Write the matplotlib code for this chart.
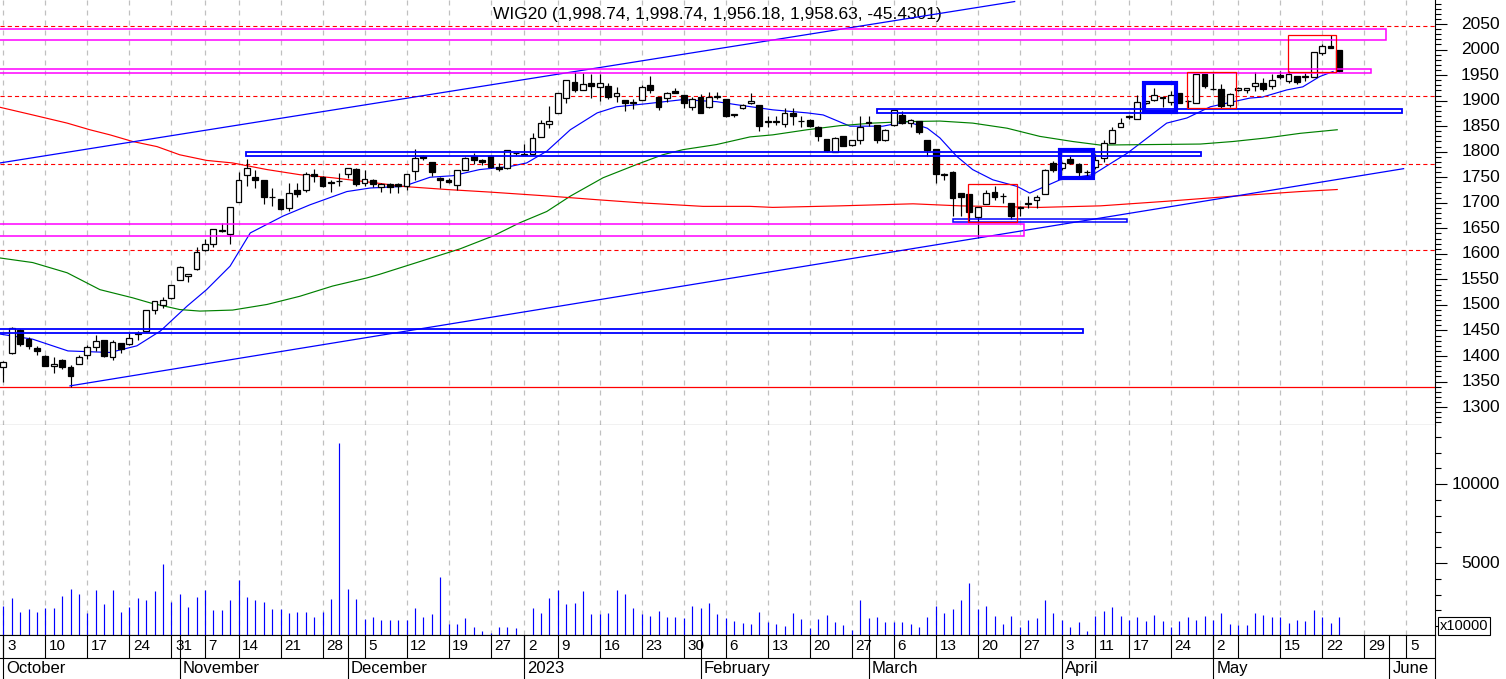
import numpy as np
import pandas as pd
import matplotlib
matplotlib.use("Agg")
import matplotlib.pyplot as plt
from matplotlib.patches import Rectangle
import matplotlib.transforms as mtrans

plt.rcParams['font.family'] = ['Liberation Sans', 'DejaVu Sans']
plt.rcParams['lines.scale_dashes'] = False

# --- trading calendar (GPW) ---
holidays = ['2022-11-01', '2022-11-11', '2022-12-26', '2023-01-06', '2023-04-07',
            '2023-04-10', '2023-05-01', '2023-05-03', '2023-06-08']
days = pd.bdate_range('2022-10-03', '2023-06-09')
days = days[~days.isin(pd.to_datetime(holidays))]

# --- WIG20 daily candles ---
opens = [1379, 1405, 1450, 1433, 1415, 1401, 1381, 1392, 1379, 1385,
         1403, 1418, 1431, 1399, 1425, 1423, 1443, 1449, 1491, 1500,
         1514, 1548, 1556, 1570, 1607, 1620, 1647, 1639, 1701, 1755,
         1750, 1745, 1712, 1708, 1690, 1726, 1725, 1757, 1750, 1741,
         1742, 1757, 1766, 1739, 1745, 1731, 1737, 1736, 1732, 1762,
         1791, 1780, 1749, 1745, 1735, 1765, 1791, 1784, 1791, 1771,
         1768, 1797, 1794, 1796, 1829, 1855, 1876, 1906, 1936, 1920,
         1934, 1926, 1929, 1910, 1902, 1896, 1902, 1931, 1908, 1905,
         1918, 1911, 1888, 1907, 1887, 1908, 1903, 1872, 1885, 1895,
         1892, 1859, 1859, 1854, 1876, 1860, 1862, 1849, 1825, 1800,
         1831, 1814, 1822, 1856, 1852, 1822, 1853, 1872, 1856, 1861,
         1823, 1806, 1755, 1761, 1719, 1718, 1672, 1698, 1721, 1713,
         1700, 1690, 1698, 1705, 1717, 1778, 1768, 1786, 1775, 1760,
         1771, 1788, 1817, 1848, 1867, 1864, 1895, 1902, 1906, 1898,
         1915, 1899, 1895, 1952, 1922, 1922, 1892, 1920, 1920, 1929,
         1935, 1928, 1950, 1939, 1948, 1947, 1947, 1993, 2007, 1998.74]
highs = [1391, 1457, 1452, 1437, 1420, 1403, 1399, 1395, 1383, 1403,
         1422, 1442, 1432, 1432, 1426, 1446, 1449, 1490, 1508, 1515,
         1540, 1576, 1561, 1613, 1629, 1648, 1660, 1692, 1761, 1786,
         1765, 1745, 1729, 1708, 1739, 1738, 1760, 1766, 1752, 1745,
         1758, 1768, 1768, 1765, 1746, 1739, 1739, 1738, 1757, 1806,
         1793, 1780, 1750, 1748, 1765, 1789, 1798, 1786, 1793, 1777,
         1804, 1798, 1815, 1836, 1863, 1890, 1915, 1941, 1957, 1954,
         1953, 1953, 1934, 1927, 1902, 1904, 1931, 1948, 1908, 1917,
         1925, 1911, 1907, 1913, 1917, 1917, 1903, 1874, 1893, 1914,
         1892, 1869, 1869, 1885, 1885, 1870, 1864, 1850, 1825, 1828,
         1831, 1822, 1869, 1870, 1852, 1845, 1882, 1880, 1865, 1861,
         1823, 1806, 1759, 1763, 1719, 1718, 1691, 1726, 1733, 1719,
         1700, 1693, 1714, 1716, 1766, 1782, 1780, 1792, 1777, 1765,
         1795, 1823, 1849, 1866, 1872, 1911, 1900, 1924, 1907, 1918,
         1915, 1902, 1952, 1952, 1954, 1932, 1915, 1926, 1924, 1956,
         1945, 1952, 1958, 1958, 1949, 1955, 1996, 2011, 2029, 1998.74]
lows = [1349, 1404, 1420, 1414, 1402, 1380, 1367, 1374, 1340, 1384,
        1394, 1410, 1398, 1393, 1406, 1421, 1432, 1448, 1482, 1494,
        1511, 1548, 1544, 1568, 1605, 1614, 1643, 1620, 1701, 1732,
        1728, 1698, 1693, 1685, 1684, 1711, 1722, 1740, 1730, 1721,
        1732, 1749, 1733, 1733, 1730, 1722, 1720, 1720, 1726, 1745,
        1784, 1753, 1729, 1739, 1726, 1764, 1776, 1774, 1768, 1762,
        1767, 1793, 1793, 1794, 1828, 1846, 1876, 1896, 1916, 1920,
        1906, 1900, 1904, 1897, 1879, 1883, 1901, 1915, 1882, 1898,
        1914, 1885, 1881, 1875, 1886, 1903, 1867, 1867, 1884, 1893,
        1840, 1849, 1852, 1849, 1852, 1849, 1849, 1820, 1800, 1800,
        1811, 1812, 1815, 1850, 1818, 1820, 1850, 1855, 1849, 1835,
        1791, 1739, 1745, 1674, 1675, 1664, 1631, 1697, 1706, 1700,
        1669, 1675, 1690, 1690, 1717, 1760, 1765, 1776, 1753, 1753,
        1766, 1780, 1817, 1848, 1865, 1864, 1893, 1900, 1888, 1891,
        1895, 1884, 1895, 1925, 1920, 1886, 1888, 1919, 1914, 1918,
        1918, 1922, 1942, 1935, 1933, 1938, 1946, 1989, 2004, 1956.18]
closes = [1389, 1454, 1424, 1420, 1410, 1381, 1384, 1379, 1361, 1399,
          1417, 1430, 1400, 1428, 1413, 1436, 1446, 1490, 1508, 1510,
          1540, 1575, 1561, 1604, 1620, 1648, 1645, 1692, 1744, 1769,
          1745, 1711, 1711, 1687, 1719, 1717, 1757, 1752, 1732, 1739,
          1743, 1768, 1737, 1747, 1737, 1737, 1731, 1733, 1756, 1788,
          1787, 1760, 1745, 1741, 1765, 1788, 1783, 1780, 1770, 1767,
          1804, 1798, 1795, 1827, 1857, 1860, 1915, 1940, 1920, 1932,
          1929, 1934, 1908, 1915, 1895, 1897, 1926, 1921, 1888, 1915,
          1914, 1895, 1903, 1876, 1907, 1909, 1869, 1873, 1892, 1900,
          1851, 1860, 1860, 1876, 1869, 1861, 1851, 1830, 1801, 1827,
          1812, 1822, 1849, 1858, 1822, 1843, 1882, 1857, 1862, 1838,
          1803, 1757, 1756, 1710, 1711, 1682, 1691, 1719, 1712, 1714,
          1674, 1691, 1699, 1712, 1765, 1764, 1778, 1778, 1760, 1761,
          1784, 1817, 1843, 1856, 1869, 1898, 1900, 1911, 1907, 1911,
          1895, 1900, 1952, 1928, 1923, 1890, 1913, 1924, 1924, 1935,
          1922, 1941, 1946, 1952, 1936, 1948, 1996, 2006, 2004, 1958.63]
# volume in x10000 units
volume = [2254, 2804, 1874, 2108, 1874, 2171, 2171, 2931, 3374, 3015,
          1811, 3269, 2381, 3311, 1874, 2192, 2761, 2635, 3205, 4914,
          2508, 3058, 2192, 2825, 3269, 2002, 2002, 2635, 3944, 2825,
          2635, 2508, 2065, 2065, 1811, 1874, 1874, 1558, 1874, 2698,
          12614, 3332, 2698, 1432, 1558, 1412, 1412, 1412, 1412, 2171,
          1601, 1791, 4133, 1158, 1158, 1538, 968, 715, 589, 968,
          968, 905, 300, 2171, 1855, 2804, 3311, 2424, 2488, 3247,
          1791, 1791, 1855, 3311, 3057, 2171, 1791, 1665, 1981, 1601,
          1601, 1538, 2298, 2171, 2488, 1791, 1538, 1348, 1222, 1158,
          1874, 1241, 1158, 1032, 1811, 1432, 905, 1432, 1728, 1241,
          1095, 779, 2635, 1494, 1558, 1241, 1241, 1241, 1158, 968,
          1558, 2254, 1811, 2065, 2635, 3710, 2065, 2254, 1622, 1158,
          1622, 968, 1368, 1494, 2635, 1811, 1368, 968, 1241, 715,
          1622, 1937, 2192, 1622, 1412, 1601, 1348, 1728, 1348, 968,
          1348, 1601, 1412, 1665, 1412, 1855, 1158, 1095, 1095, 1855,
          1728, 1601, 1601, 1222, 1412, 1348, 2045, 1601, 1222, 1601]

# moving averages sampled from the chart (trading-day index, value)
ma_short_x = [-0.4, 3.5, 7.7, 12.7, 15.9, 18.7, 21.9, 24.2, 27, 29.4, 33.3, 36.5, 40.9,
              43.7, 47.6, 50.8, 53.5, 56.7, 60.3, 62.3, 64.7, 67.5, 70.7, 73, 76.6, 80.9,
              84.9, 87.3, 91.6, 95.7, 97.6, 100.8, 104.7, 107.6, 110, 111.5, 113.5, 115.4,
              117.8, 120.7, 122.2, 125.8, 129.7, 132.9, 133.8, 138.5, 140.9, 143.7, 148.4,
              149.9, 152.8, 154.7, 156.7, 158.3]
ma_short_y = [1443, 1433, 1410, 1407, 1420, 1449, 1498, 1530, 1576, 1641, 1674, 1696, 1722,
              1729, 1732, 1750, 1753, 1765, 1771, 1778, 1801, 1843, 1876, 1888, 1894, 1902,
              1898, 1892, 1882, 1876, 1872, 1850, 1850, 1859, 1846, 1827, 1791, 1765,
              1745, 1732, 1719, 1745, 1755, 1788, 1797, 1856, 1866, 1888, 1905,
              1907, 1921, 1927, 1947, 1957]
ma_mid_x = [-0.4, 3.5, 7.6, 11.5, 15.4, 17.5, 21, 23.4, 27.3, 31.4, 35.3, 39.2, 43.3, 44.8,
            54.4, 58.3, 61.5, 64.7, 67.5, 71.4, 75.4, 78.5, 80.9, 84.9, 88.9, 91.6, 95.7,
            99.6, 103.5, 107.6, 111.5, 115.4, 119.5, 123.4, 127.3, 130.6, 142.5, 146.4,
            150.4, 154.4, 158.8]
ma_mid_y = [1592, 1583, 1563, 1530, 1514, 1504, 1491, 1488, 1490, 1501, 1517, 1537, 1553, 1560,
            1610, 1635, 1661, 1683, 1713, 1749, 1775, 1794, 1804, 1814, 1829, 1833, 1843,
            1851, 1856, 1859, 1860, 1856, 1846, 1830, 1820, 1813, 1815, 1820,
            1827, 1836, 1843]
ma_long_x = [-0.4, 3.5, 7.6, 10.3, 12.7, 15.4, 18.3, 21, 24.2, 27.3, 31.4, 35.3, 39.2, 44.8,
             47.6, 52.8, 57.9, 65.1, 70.7, 75.8, 83.3, 88.9, 91.6, 99.6, 108.3, 113.9, 123.4,
             130.6, 138.5, 146.4, 154.4, 158.8]
ma_long_y = [1887, 1872, 1856, 1843, 1833, 1820, 1810, 1794, 1783, 1778, 1765, 1755, 1749, 1738,
             1732, 1726, 1721, 1713, 1706, 1700, 1693, 1693, 1691, 1694, 1698, 1694, 1691,
             1694, 1703, 1713, 1722, 1726]

# analyst drawings (index / price)
dashed_levels = [2046, 1909, 1776, 1608]
solid_level = 1338.5
channel_upper = [(-0.4, 1778), (120.4, 2094)]
channel_lower = [(7.94, 1341.6), (166.7, 1766.8)]
# (x0, x1, p_low, p_high, colour, width)
boxes = [(-0.5, 164.6, 2018, 2039.6, '#ff00ff', 1.1),
         (-0.5, 162.8, 1954, 1961.5, '#ff00ff', 1.1),
         (-0.5, 121.5, 1635.4, 1658.8, '#ff00ff', 1.1),
         (28.9, 142.6, 1791.3, 1799.4, '#0000ff', 1.3),
         (-0.5, 128.5, 1444.5, 1452.3, '#0000ff', 1.3),
         (104.0, 166.5, 1875.6, 1883.4, '#0000ff', 1.3),
         (113.0, 133.8, 1662, 1668.5, '#0000ff', 1.1),
         (125.8, 129.7, 1749, 1804, '#0000ff', 3.0),
         (135.8, 139.6, 1877.5, 1934, '#0000ff', 3.0),
         (114.8, 120.7, 1662.7, 1737, '#ff0000', 0.9),
         (140.9, 146.8, 1886.5, 1955.7, '#ff0000', 0.9),
         (152.9, 158.6, 1955.7, 2028, '#ff0000', 0.9)]

title = 'WIG20 (1,998.74, 1,998.74, 1,956.18, 1,958.63, -45.4301)'

# ---------------------------------------------------------------
W, H = 1506, 679
fig = plt.figure(figsize=(W / 100, H / 100), dpi=100)


def px_rect(x0, y0, x1, y1):
    return [x0 / W, 1 - y1 / H, (x1 - x0) / W, (y1 - y0) / H]


ax_p = fig.add_axes(px_rect(0, 0, 1435, 425))
ax_v = fig.add_axes(px_rect(0, 425, 1435, 635))
ax_d = fig.add_axes(px_rect(0, 635, 1435, 679))
XLIM = (-0.393, 170.44)

idx = np.arange(len(days))
week_pos = [i for i in idx if i == 0 or days[i].weekday() < days[i - 1].weekday()]
month_pos = [i for i in idx if i == 0 or days[i].month != days[i - 1].month]

grid_style = dict(color='#c0c0c0', lw=0.9, linestyle=(0, (3.6, 3.6)), zorder=0)
for a in (ax_p, ax_v):
    a.set_xlim(XLIM)
    for w in week_pos:
        a.axvline(w, **grid_style)
    a.set_xticks([])
    for s in ('left', 'top'):
        a.spines[s].set_visible(False)
    for s in ('right', 'bottom'):
        a.spines[s].set_linewidth(0.8)
    a.yaxis.tick_right()

# --- price panel ---
ax_p.set_ylim(1265, 2097)
x = np.arange(len(opens))
o = np.array(opens, float)
c = np.array(closes, float)
ax_p.vlines(x, lows, highs, color='black', lw=0.85, zorder=3)
bottoms = np.minimum(o, c)
heights = np.maximum(np.abs(c - o), 0.6)
colors = np.where(c >= o, 'white', 'black')
ax_p.bar(x, heights, 0.7, bottoms, color=colors, edgecolor='black', linewidth=0.9, zorder=4)

ax_p.plot(ma_short_x, ma_short_y, color='#0000ff', lw=0.85, zorder=2)
ax_p.plot(ma_mid_x, ma_mid_y, color='#008000', lw=0.85, zorder=2)
ax_p.plot(ma_long_x, ma_long_y, color='#ff0000', lw=0.85, zorder=2)

for lv in dashed_levels:
    ax_p.axhline(lv, color='#ff0000', lw=0.8, linestyle=(0, (3.0, 2.2)), zorder=2)
ax_p.axhline(solid_level, color='#ff0000', lw=0.9, zorder=2)
for seg in (channel_upper, channel_lower):
    ax_p.plot([seg[0][0], seg[1][0]], [seg[0][1], seg[1][1]], color='#0000ff', lw=0.9, zorder=5)
for x0, x1, lo, hi, col, lw in boxes:
    ax_p.add_patch(Rectangle((x0, lo), x1 - x0, hi - lo, fill=False, edgecolor=col,
                             lw=lw, zorder=5, joinstyle='miter'))

ax_p.set_yticks(np.arange(1300, 2051, 50))
ax_p.set_yticks(np.arange(1270, 2097, 10), minor=True)
ax_p.tick_params(axis='y', which='major', length=8.6, width=0.8, labelright=False, right=True)
ax_p.tick_params(axis='y', which='minor', length=4.3, width=0.8, right=True)
tr_p = mtrans.blended_transform_factory(fig.transFigure, ax_p.transData)
for v in range(1300, 2051, 50):
    ax_p.text(1500 / W, v, str(v), transform=tr_p, ha='right', va='center',
              fontsize=12.5, clip_on=False)
ax_p.text(0.5, 1 - 14 / 425, title, transform=ax_p.transAxes, ha='center', va='center',
          fontsize=12.5)

# --- volume panel ---
ax_v.set_ylim(443, 13750)
ax_v.vlines(x, 0, volume, color='#0000ff', lw=0.85, zorder=3)
ax_v.set_yticks([5000, 10000])
ax_v.set_yticks(np.arange(1000, 13001, 1000), minor=True)
ax_v.tick_params(axis='y', which='major', length=8.6, width=0.8, labelright=False, right=True)
ax_v.tick_params(axis='y', which='minor', length=4.3, width=0.8, right=True)
tr_v = mtrans.blended_transform_factory(fig.transFigure, ax_v.transData)
for v in (5000, 10000):
    ax_v.text(1500 / W, v, str(v), transform=tr_v, ha='right', va='center',
              fontsize=12.5, clip_on=False)
fig.text(1440 / W, 1 - 626 / H, 'x10000', fontsize=10.5, ha='left', va='center',
         bbox=dict(boxstyle='square,pad=0.12', fc='white', ec='black', lw=0.8))

# --- date axis ---
ax_d.set_xlim(XLIM)
ax_d.set_ylim(0, 1)
ax_d.set_xticks([])
ax_d.set_yticks([])
for s in ('left', 'bottom'):
    ax_d.spines[s].set_visible(False)
for s in ('right', 'top'):
    ax_d.spines[s].set_linewidth(0.8)
row_split = 21 / 44
ax_d.axhline(row_split, color='black', lw=0.8)
ax_d.vlines(week_pos, row_split, 1, color='black', lw=0.8)
ax_d.vlines(month_pos, 0, 1, color='black', lw=0.8)
for w in week_pos:
    d = days[w]
    if d == pd.Timestamp('2023-05-08'):
        continue
    ax_d.text(w + 0.45, 0.75, str(d.day), ha='left', va='center', fontsize=11)
for m in month_pos:
    d = days[m]
    name = str(d.year) if d.month == 1 else d.strftime('%B')
    ax_d.text(m + 0.4, 0.23, name, ha='left', va='center', fontsize=12)

fig.savefig('out.png', dpi=100)
